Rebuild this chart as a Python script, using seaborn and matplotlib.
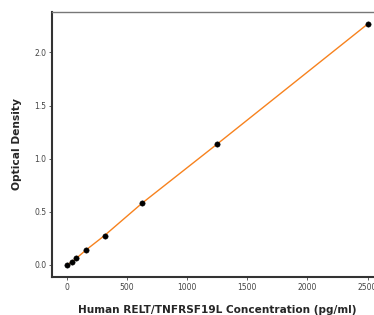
import matplotlib
matplotlib.use("Agg")
import matplotlib.pyplot as plt
import seaborn as sns
import pandas as pd

# Standard curve readings
concentration = [0, 39, 78, 156, 312, 625, 1250, 2500]
optical_density = [0.0, 0.028, 0.063, 0.139, 0.277, 0.582, 1.139, 2.267]

x_ticks = [0, 500, 1000, 1500, 2000, 2500]
y_ticks = [0.0, 0.5, 1.0, 1.5, 2.0]

df = pd.DataFrame({"conc": concentration, "od": optical_density})

sns.set_style("white")
plt.rcParams['font.family'] = ['DejaVu Sans']

fig = plt.figure(figsize=(3.74, 3.15), dpi=100)
ax = fig.add_axes([0.139, 0.1206, 0.884, 0.841])

# Fitted line and measured points
sns.lineplot(data=df, x="conc", y="od", color="#f7821e", linewidth=1.0, ax=ax)
sns.scatterplot(data=df, x="conc", y="od", color="black", s=15, edgecolor="black",
                zorder=3, ax=ax)

ax.set_xticks(x_ticks)
ax.set_yticks(y_ticks)
ax.set_xlim(-125, 2625)
ax.set_ylim(-0.1135, 2.38)
ax.tick_params(axis="both", labelsize=5.5, length=2, width=0.6, colors="#444444",
               bottom=True, left=True, pad=2)
ax.set_xlabel("Human RELT/TNFRSF19L Concentration (pg/ml)", fontsize=7.6,
              fontweight="bold", labelpad=10)
ax.set_ylabel("Optical Density", fontsize=7.7, fontweight="bold", labelpad=9)

ax.spines["left"].set_linewidth(1.5)
ax.spines["left"].set_color("#333333")
ax.spines["bottom"].set_linewidth(1.5)
ax.spines["bottom"].set_color("#333333")
ax.spines["top"].set_linewidth(1.0)
ax.spines["top"].set_color("#777777")
ax.spines["right"].set_visible(False)

fig.savefig("out.png", dpi=100)
